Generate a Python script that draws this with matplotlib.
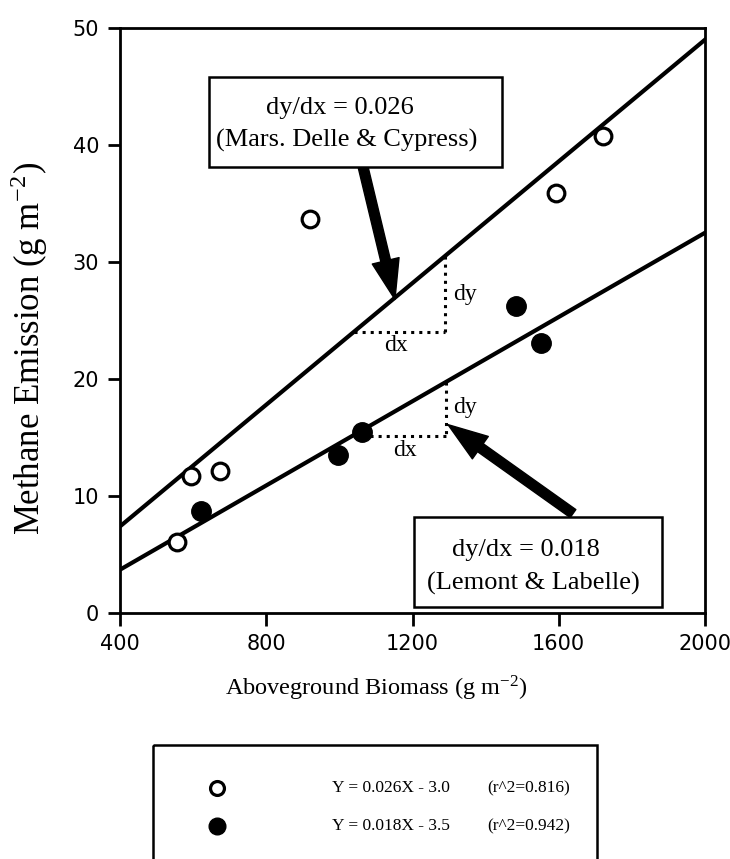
import matplotlib
matplotlib.use("Agg")
import matplotlib.pyplot as plt
from matplotlib.patches import Rectangle
import numpy as np

# open circles: Mars, Delle & Cypress
open_x = [556, 594, 673, 920, 1593, 1721]
open_y = [6.1, 11.7, 12.1, 33.7, 35.9, 40.8]
# filled circles: Lemont & Labelle
fill_x = [621, 996, 1062, 1483, 1552]
fill_y = [8.7, 13.5, 15.5, 26.2, 23.1]

# regression lines (slope, intercept)
open_fit = (0.026, -3.0)
fill_fit = (0.018, -3.5)
open_r2 = 0.816
fill_r2 = 0.942

x_ticks = [400, 800, 1200, 1600, 2000]
y_ticks = [0, 10, 20, 30, 40, 50]

serif = "Liberation Serif"
plt.rcParams["mathtext.fontset"] = "stix"

W, H = 730, 859
fig = plt.figure(figsize=(W / 100, H / 100), dpi=100)
ax = fig.add_axes([120 / W, 1 - 613 / H, 585 / W, 585 / H])

xs = np.array([400, 2000])
ax.plot(xs, open_fit[0] * xs + open_fit[1], color="black", lw=3, zorder=2)
ax.plot(xs, fill_fit[0] * xs + fill_fit[1], color="black", lw=3, zorder=2)

ax.plot(open_x, open_y, "o", ms=12, mfc="white", mec="black", mew=2.3, zorder=3)
ax.plot(fill_x, fill_y, "o", ms=14, mfc="black", mec="black", zorder=3)

ax.set_xlim(400, 2000)
ax.set_ylim(0, 50)
ax.set_xticks(x_ticks)
ax.set_yticks(y_ticks)
for s in ax.spines.values():
    s.set_linewidth(2)
ax.tick_params(direction="out", length=9, width=2, labelsize=15, pad=6)
for lab in ax.get_xticklabels() + ax.get_yticklabels():
    lab.set_family("DejaVu Sans")

# slope triangles
def slope_triangle(fit, xv, y_low, x_start, label_y_dy, label_y_dx):
    y_top = fit[0] * xv + fit[1]
    ax.plot([xv, xv], [y_top, y_low], ":", color="black", lw=2.2, zorder=2)
    ax.plot([x_start, xv], [y_low, y_low], ":", color="black", lw=2.2, zorder=2)
    ax.text(xv + 20, label_y_dy, "dy", family=serif, fontsize=17, va="center")
    ax.text((x_start + xv) / 2 - 10, label_y_dx, "dx", family=serif, fontsize=17,
            va="center", ha="center")

slope_triangle(open_fit, 1290, 24.0, 1040, 27.2, 22.9)
slope_triangle(fill_fit, 1292, 15.1, 1085, 17.6, 13.9)

# annotation boxes
ax.add_patch(Rectangle((643, 38.1), 802, 7.7, fill=True, fc="white", ec="black",
                       lw=1.8, zorder=4))
ax.text(1002, 43.2, "dy/dx = 0.026", family=serif, fontsize=19, ha="center",
        va="center", zorder=5)
ax.text(1021, 40.4, "(Mars. Delle & Cypress)", family=serif, fontsize=19,
        ha="center", va="center", zorder=5)

ax.add_patch(Rectangle((1204, 0.5), 678, 7.7, fill=True, fc="white", ec="black",
                       lw=1.8, zorder=4))
ax.text(1510, 5.4, "dy/dx = 0.018", family=serif, fontsize=19, ha="center",
        va="center", zorder=5)
ax.text(1530, 2.55, "(Lemont & Labelle)", family=serif, fontsize=19,
        ha="center", va="center", zorder=5)

arrow = dict(arrowstyle="simple,head_length=1.3,head_width=0.9,tail_width=0.32",
             color="black", shrinkA=0, shrinkB=0, mutation_scale=22)
ax.annotate("", xy=(1152, 26.8), xytext=(1065, 38.1), arrowprops=arrow, zorder=3)
ax.annotate("", xy=(1297, 16.1), xytext=(1639, 8.5), arrowprops=arrow, zorder=3)

# axis labels
fig.text(376 / W, 1 - 688 / H, r"Aboveground Biomass (g m$^{\mathregular{-2}}$)",
         family=serif, fontsize=17.5, ha="center", va="center")
fig.text(29 / W, 1 - 348 / H, r"Methane Emission (g m$^{\mathregular{-2}}$)",
         family=serif, fontsize=25, ha="center", va="center", rotation=90)

# legend box at the bottom (pixel coordinates overlay)
lax = fig.add_axes([0, 0, 1, 1], zorder=-1)
lax.set_xlim(0, W)
lax.set_ylim(H, 0)
lax.axis("off")
lax.add_patch(Rectangle((153, 745), 444, 140, fill=False, ec="black", lw=1.8,
                        clip_on=False))
lax.plot([217], [788], "o", ms=10, mfc="white", mec="black", mew=2.3)
lax.plot([217], [826], "o", ms=12, mfc="black", mec="black")
lax.text(332, 788, "Y = %.3fX - %.1f" % (open_fit[0], -open_fit[1]), family=serif,
         fontsize=12.5, va="center")
lax.text(332, 826, "Y = %.3fX - %.1f" % (fill_fit[0], -fill_fit[1]), family=serif,
         fontsize=12.5, va="center")
lax.text(487, 788, "(r^2=%.3f)" % open_r2, family=serif, fontsize=12.5, va="center")
lax.text(487, 826, "(r^2=%.3f)" % fill_r2, family=serif, fontsize=12.5, va="center")

fig.savefig("out.png", dpi=100)
